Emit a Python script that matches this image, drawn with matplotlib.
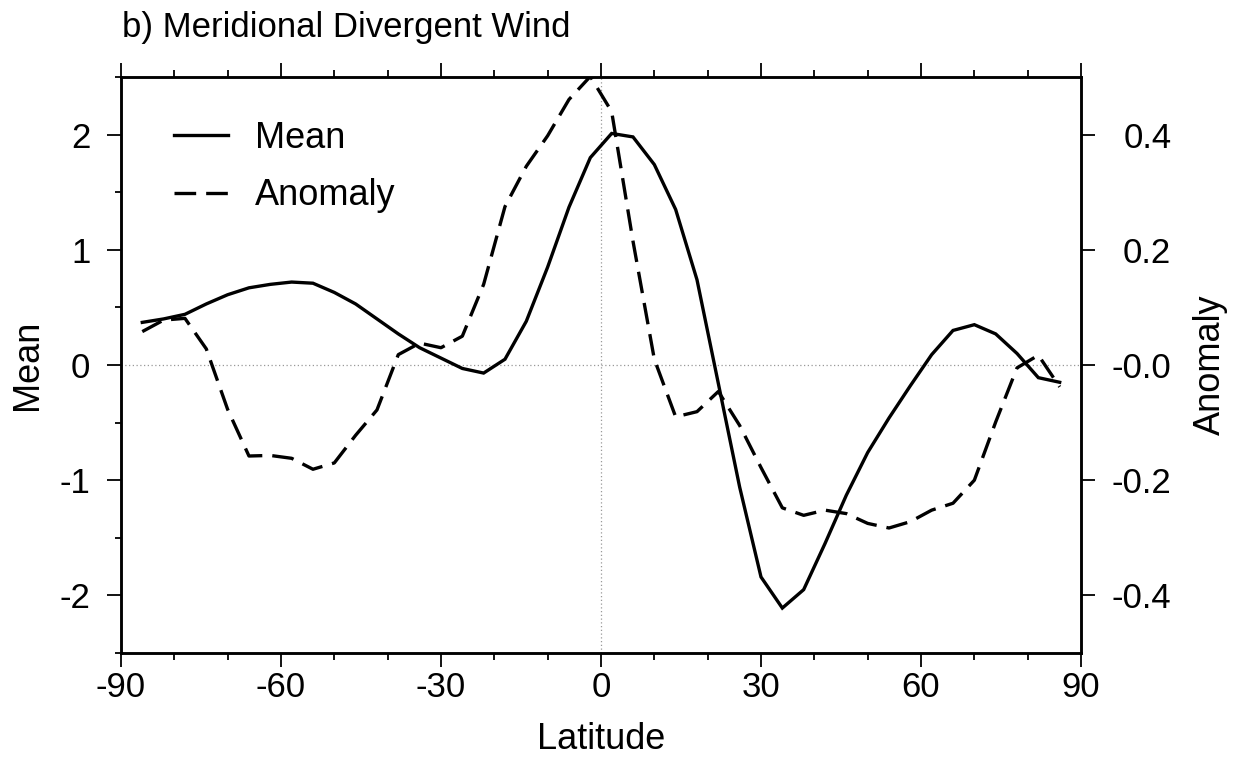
import matplotlib
matplotlib.use("Agg")
import matplotlib.pyplot as plt
from matplotlib.ticker import MultipleLocator

plt.rcParams['font.family'] = ['Liberation Sans', 'DejaVu Sans']
plt.rcParams['axes.unicode_minus'] = False

# --- data ---
lat = [-86, -82, -78, -74, -70, -66, -62, -58, -54, -50, -46, -42, -38, -34, -30,
       -26, -22, -18, -14, -10, -6, -2, 2, 6, 10, 14, 18, 22, 26, 30, 34, 38, 42,
       46, 50, 54, 58, 62, 66, 70, 74, 78, 82, 86]

mean = [0.37, 0.40, 0.44, 0.53, 0.61, 0.67, 0.70, 0.72, 0.71, 0.63, 0.53, 0.40,
        0.27, 0.15, 0.06, -0.03, -0.07, 0.05, 0.38, 0.85, 1.37, 1.80, 2.01, 1.98,
        1.74, 1.35, 0.74, -0.16, -1.06, -1.84, -2.11, -1.95, -1.55, -1.13, -0.76,
        -0.46, -0.18, 0.09, 0.30, 0.35, 0.27, 0.10, -0.11, -0.15]

anomaly = [0.058, 0.078, 0.081, 0.028, -0.077, -0.158, -0.157, -0.162, -0.181,
           -0.170, -0.122, -0.078, 0.018, 0.038, 0.030, 0.050, 0.140, 0.275, 0.345,
           0.398, 0.461, 0.501, 0.440, 0.215, 0.010, -0.090, -0.081, -0.046, -0.105,
           -0.178, -0.248, -0.261, -0.252, -0.258, -0.275, -0.283, -0.272, -0.252,
           -0.240, -0.200, -0.099, -0.005, 0.017, -0.038]

x_ticks = [-90, -60, -30, 0, 30, 60, 90]
mean_ticks = [-2, -1, 0, 1, 2]
anom_ticks = [0.4, 0.2, 0.0, -0.2, -0.4]
anom_labels = ['0.4', '0.2', '-0.0', '-0.2', '-0.4']

# --- figure ---
fig = plt.figure(figsize=(12.38, 7.64), dpi=100)
ax = fig.add_axes([0.0977, 0.1453, 0.7755, 0.7539])
ax2 = ax.twinx()

# dotted zero lines
ax.axhline(0, color='#999999', lw=0.9, ls=(0, (1, 2)), zorder=1)
ax.axvline(0, color='#999999', lw=0.9, ls=(0, (1, 2)), zorder=1)

l1, = ax.plot(lat, mean, color='black', lw=2.4, solid_joinstyle='miter')
l2, = ax2.plot(lat, anomaly, color='black', lw=2.4, ls=(0, (6.5, 3)))

ax.set_xlim(-90, 90)
ax.set_ylim(-2.5, 2.5)
ax2.set_ylim(-0.5, 0.5)

ax.set_xticks(x_ticks)
ax.xaxis.set_minor_locator(MultipleLocator(10))
ax.set_yticks(mean_ticks)
ax.yaxis.set_minor_locator(MultipleLocator(0.5))
ax2.set_yticks(anom_ticks, anom_labels)

ax.tick_params(axis='x', which='both', direction='out', top=True, width=1.3, labelsize=25)
ax.tick_params(axis='x', which='major', length=10, pad=3)
ax.tick_params(axis='x', which='minor', length=5)
ax.tick_params(axis='y', which='both', direction='out', right=False, width=1.3, labelsize=25)
ax.tick_params(axis='y', which='major', length=10, pad=12)
ax.tick_params(axis='y', which='minor', length=4)
ax2.tick_params(axis='y', which='major', direction='out', length=10, width=1.3,
                labelsize=25, pad=55)
for t in ax2.get_yticklabels():
    t.set_horizontalalignment('right')

for a in (ax, ax2):
    for s in a.spines.values():
        s.set_linewidth(1.8)

ax.set_xlabel('Latitude', fontsize=26)
ax.xaxis.set_label_coords(0.5, -0.12)
ax.set_ylabel('Mean', fontsize=26)
ax.yaxis.set_label_coords(-0.0795, 0.5)
ax2.set_ylabel('Anomaly', fontsize=26)
ax2.yaxis.set_label_coords(1.117, 0.5)

ax2.legend([l1, l2], ['Mean', 'Anomaly'], loc='upper left', bbox_to_anchor=(0.055, 0.924),
           frameon=False, fontsize=26, handlelength=1.5, handletextpad=0.75,
           labelspacing=0.62, borderpad=0, borderaxespad=0)

fig.text(122 / 1238, 1 - 28 / 764, 'b) Meridional Divergent Wind', fontsize=25,
         ha='left', va='center')

fig.savefig('out.png', dpi=100)
